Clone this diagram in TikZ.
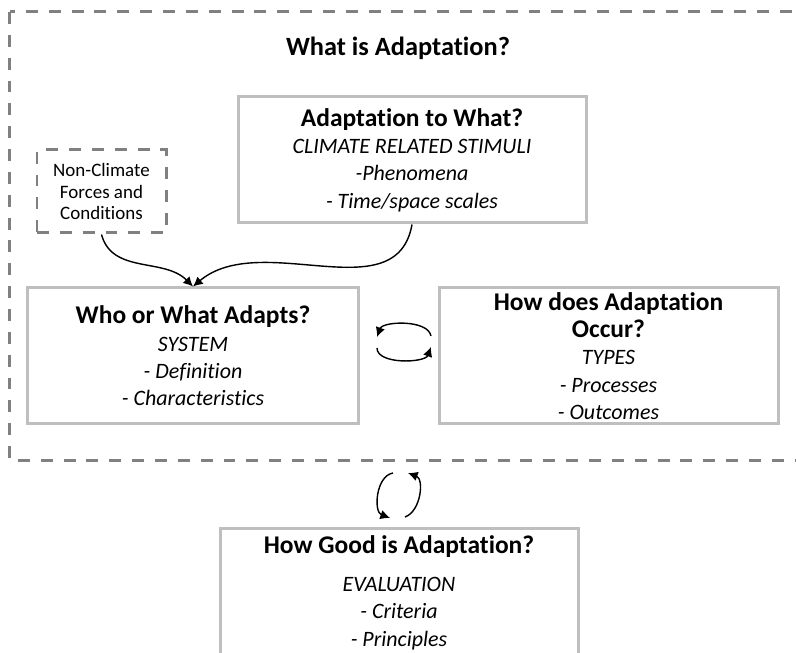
\documentclass[tikz,border=0pt]{standalone}
\usepackage{fontspec}
\setmainfont{Carlito}[Ligatures=NoCommon, Contextuals=NoAlternate]
\usetikzlibrary{arrows.meta,positioning}

\newcommand{\bodyfont}{\fontsize{12.5}{15.6}\selectfont\itshape}
\newcommand{\headtext}[1]{{\upshape\bfseries\fontsize{14.5}{15.6}\selectfont #1}}

\tikzset{
	box/.style={draw=black!25, line width=0.06cm, fill=white, align=center, inner sep=0pt, font=\bodyfont},
	dashbox/.style={draw=black!50, line width=0.06cm, dash pattern=on 6.8pt off 6.2pt},
	link/.style={line width=0.8pt, -{Latex[length=5.5pt,width=5.5pt]}},
}

\begin{document}
\begin{tikzpicture}
			%%%%% START %%%%%
			\useasboundingbox (0, 0) rectangle (15.92, -13.06);
			
			\draw[dashbox] (0.2, -0.24) rectangle (16.4, -9.22);
			
			\node[font=\bfseries\fontsize{15}{18}\selectfont] (title) at (7.96, -0.96) {What is Adaptation?};
			
			\node[box, minimum width=6.96cm, minimum height=2.52cm] (what) at (8.24, -3.2)
				{\headtext{Adaptation to What?}\\ CLIMATE RELATED STIMULI\\ -Phenomena\\ - Time/space scales};
			\node[box, dashbox, minimum width=2.58cm, minimum height=1.66cm, font=\fontsize{10.8}{12.5}\selectfont] (nonclim) at (2.03, -3.83)
				{Non-Climate\\ Forces and\\ Conditions};
			
			\node[box, minimum width=6.6cm, minimum height=2.72cm] (who) at (3.86, -7.12)
				{\headtext{Who or What Adapts?}\\ SYSTEM\\ - Definition\\ - Characteristics};
			\node[box, minimum width=6.78cm, minimum height=2.72cm] (how) at (12.17, -7.12)
				{\headtext{How does Adaptation}\\ \headtext{Occur?}\\ TYPES\\ - Processes\\ - Outcomes};
			
			\node[box, anchor=north, minimum width=7.16cm, inner ysep=4pt] (good) at (7.98, -10.54)
				{\headtext{How Good is Adaptation?}\\[6pt] EVALUATION\\ - Criteria\\ - Principles\rule[-1.2cm]{0pt}{0pt}};
			
			\draw[link] (nonclim.south) to[out=-75, in=135] (who.north);
			\draw[link] (what.south) to[out=-100, in=40] (who.north);
			
			% who <-> how
			\coordinate (swapA) at (8.62, -6.72);
			\coordinate (swapB) at (7.54, -6.74);
			\coordinate (swapC) at (7.54, -6.96);
			\coordinate (swapD) at (8.62, -6.94);
			\draw[link] (swapA) to[out=100, in=70, looseness=0.8] (swapB);
			\draw[link] (swapC) to[out=-90, in=-110, looseness=0.8] (swapD);
			
			% frame <-> good
			\coordinate (loopA) at (7.86, -9.46);
			\coordinate (loopB) at (7.8, -10.36);
			\coordinate (loopC) at (8.1, -10.34);
			\coordinate (loopD) at (8.16, -9.46);
			\draw[link] (loopA) to[out=190, in=160, looseness=1] (loopB);
			\draw[link] (loopC) to[out=20, in=-20, looseness=1] (loopD);
			
			%%%%% END %%%%%
\end{tikzpicture}
\end{document}
